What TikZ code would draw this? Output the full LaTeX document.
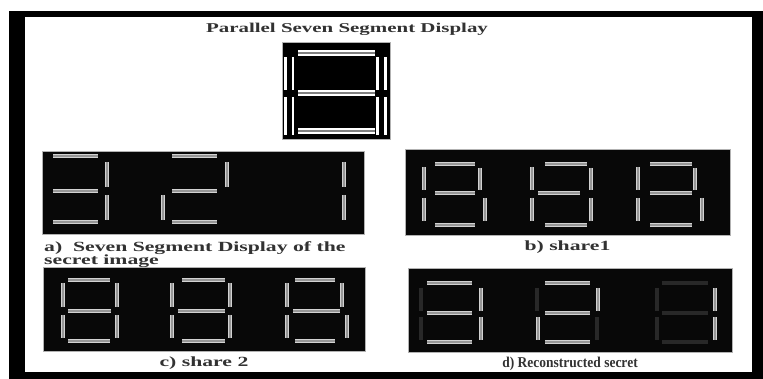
\documentclass[tikz,border=0pt]{standalone}
\usepackage{fontspec}
\setmainfont{Liberation Serif}
\newfontfamily\largefont[FakeStretch=1.55]{Liberation Serif}
\newfontfamily\etroitfont[FakeStretch=0.9]{Liberation Serif}
\usetikzlibrary{positioning}
\definecolor{segclair}{RGB}{210,210,210}
\definecolor{segmilieu}{RGB}{150,150,150}
\definecolor{segeteint}{RGB}{40,40,40}
\definecolor{fondpanneau}{RGB}{8,8,8}
\definecolor{textegris}{RGB}{50,50,50}
\tikzset{
  panneau/.style={draw=gray!60, fill=fondpanneau, inner sep=0pt, outer sep=0pt, anchor=north west},
  segment/.style={draw=segclair, line width=1.2pt, double=segmilieu, double distance=1.1pt},
  eteint/.style={draw=segeteint, line width=3.4pt},
  grandv/.style={draw=white, line width=2.8pt, double=black, double distance=5pt},
  grandh/.style={draw=white, line width=1.7pt, double=gray, double distance=2.2pt},
  legende/.style={font=\largefont\bfseries\fontsize{14}{12.5}\selectfont, text=textegris, inner sep=0pt},
}
\begin{document}
\begin{tikzpicture}[x=1pt, y=-1pt]
    \useasboundingbox (0,0) rectangle (763,379);
    % Cadre
    \fill[black] (9,11) rectangle (763,379);
    \fill[white] (25,17) rectangle (752,372);
    % Afficheur parallele
    \node[legende, font=\largefont\bfseries\fontsize{13.5}{15}\selectfont] (titre) at (347,29) {Parallel Seven Segment Display};
    \node[panneau, fill=black, minimum width=108pt, minimum height=97pt] (parallele) at (282,42) {};
    \foreach \y in {53,93,131}
      \draw[grandh] (298,\y) -- (375,\y);
    \foreach \x in {289,381.5} {
      \draw[grandv] (\x,57) -- (\x,90);
      \draw[grandv] (\x,97) -- (\x,135);
    }
    % a) image secrete : 3 2 1
    \node[panneau, minimum width=322pt, minimum height=83pt] (secret) at (42,151) {};
    \foreach \y in {156,191,222}
      \draw[segment] (53,\y) -- (98,\y);
    \draw[segment] (107,162) -- (107,187);
    \draw[segment] (107,195) -- (107,220);
    \foreach \y in {156,191,222}
      \draw[segment] (172,\y) -- (217,\y);
    \draw[segment] (227,162) -- (227,187);
    \draw[segment] (163,195) -- (163,220);
    \draw[segment] (344,162) -- (344,187);
    \draw[segment] (344,195) -- (344,220);
    \node[legende, anchor=north west, align=left] (legsecret) at (44,241) {a)\ \ Seven Segment Display of the\\secret image};
    % b) share1
    \node[panneau, minimum width=325pt, minimum height=86pt] (partun) at (405,149) {};
    \foreach \l/\a/\b/\m/\n/\r/\s in {424/435/475/435/475/480/485, 532/545/587/538/580/591/591, 638/650/692/650/692/695/702} {
      \draw[segment] (\a,164) -- (\b,164);
      \draw[segment] (\m,193) -- (\n,193);
      \draw[segment] (\a,225) -- (\b,225);
      \draw[segment] (\l,167) -- (\l,190);
      \draw[segment] (\l,198) -- (\l,221);
      \draw[segment] (\r,168) -- (\r,190);
      \draw[segment] (\s,198) -- (\s,221);
    }
    \node[legende, below=6pt of partun] (legun) {b) share1};
    % c) share 2
    \node[panneau, minimum width=322pt, minimum height=84pt] (partdeux) at (43,267) {};
    \foreach \l/\a/\b/\m/\n/\r/\s in {63/68/110/68/111/117/117, 172/182/225/178/225/230/230, 287/295/335/293/340/342/347} {
      \draw[segment] (\a,280) -- (\b,280);
      \draw[segment] (\m,311) -- (\n,311);
      \draw[segment] (\a,341) -- (\b,341);
      \draw[segment] (\l,283) -- (\l,307);
      \draw[segment] (\l,315) -- (\l,338);
      \draw[segment] (\r,283) -- (\r,307);
      \draw[segment] (\s,315) -- (\s,338);
    }
    \node[legende, below=6pt of partdeux] (legdeux) {c) share 2};
    % d) secret reconstruit
    \node[panneau, minimum width=324pt, minimum height=84pt] (reconst) at (408,268) {};
    \draw[eteint] (421,288) -- (421,311);
    \draw[eteint] (421,317) -- (421,340);
    \draw[eteint] (537,288) -- (537,311);
    \draw[eteint] (597,317) -- (597,340);
    \foreach \y in {283,313,342}
      \draw[eteint] (662,\y) -- (708,\y);
    \draw[eteint] (657,288) -- (657,311);
    \draw[eteint] (657,317) -- (657,340);
    \foreach \y in {283,313,342} {
      \draw[segment] (427,\y) -- (472,\y);
      \draw[segment] (545,\y) -- (590,\y);
    }
    \draw[segment] (481,288) -- (481,311);
    \draw[segment] (481,317) -- (481,340);
    \draw[segment] (598,288) -- (598,311);
    \draw[segment] (538,317) -- (538,340);
    \draw[segment] (715,288) -- (715,311);
    \draw[segment] (715,317) -- (715,340);
    \node[legende, font=\etroitfont\bfseries\fontsize{15}{17}\selectfont, below=5pt of reconst] (legreconst) {d) Reconstructed secret};
\end{tikzpicture}
\end{document}
